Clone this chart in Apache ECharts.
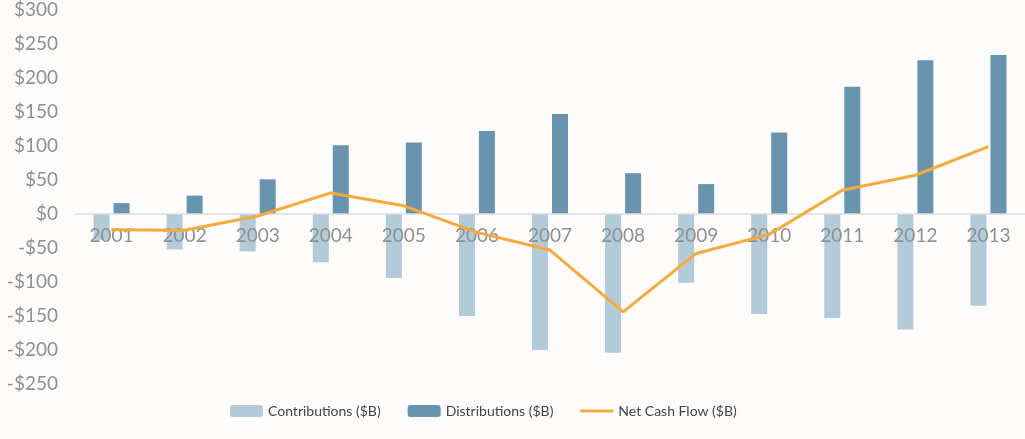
<!DOCTYPE html>
<html>
<head>
<meta charset="utf-8">
<script src="https://cdn.jsdelivr.net/npm/echarts@6/dist/echarts.min.js"></script>
<style>
  html, body { margin: 0; padding: 0; background: #fdfcfb; }
  #chart { width: 1025px; height: 439px; }
</style>
</head>
<body>
<div id="chart"></div>
<script>
// values, in $B
var years = ["2001", "2002", "2003", "2004", "2005", "2006", "2007", "2008", "2009", "2010", "2011", "2012", "2013"];
var contributions = [-38, -52, -55, -71, -94, -150, -200, -204, -101, -147, -153, -170, -135];
var distributions = [16, 27, 51, 101, 105, 122, 147, 60, 44, 120, 187, 226, 234];
var netCashFlow = [-23, -24, -3, 31, 12, -27, -53, -144, -58, -30, 35, 57, 99];

var myChart = echarts.init(document.getElementById("chart"));
var option = {
    backgroundColor: "#fdfcfb",
    animation: false,
    grid: {
        left: 75,
        top: 10,
        bottom: 55,
        width: 953
    },
    legend: {
        left: 225,
        top: 399,
        itemWidth: 33,
        itemHeight: 12,
        itemGap: 27,
        textStyle: { color: "#444", fontSize: 14, fontFamily: "Lato" },
        data: [
            { name: "Contributions ($B)" },
            { name: "Distributions ($B)" },
            { name: "Net Cash Flow ($B)", icon: "path://M0,0 L33,0 L33,3 L0,3 Z" }
        ]
    },
    xAxis: {
        type: "category",
        data: years,
        z: 3,
        // the axis sits on the $0 line: 170px up from the grid bottom
        offset: -170,
        axisLine: { onZero: false, lineStyle: { color: "#d9dde0", width: 1.5 } },
        axisTick: { show: false },
        axisLabel: { color: "#909090", fontSize: 19, fontFamily: "Lato", margin: 12 }
    },
    yAxis: {
        type: "value",
        min: -250,
        max: 300,
        interval: 50,
        splitLine: { show: false },
        axisLine: { show: false },
        axisTick: { show: false },
        axisLabel: {
            color: "#909090",
            fontSize: 19,
            fontFamily: "Lato",
            margin: 17,
            formatter: function (v) { return (v < 0 ? "-$" : "$") + Math.abs(v); }
        }
    },
    series: [
        {
            name: "Contributions ($B)",
            type: "bar",
            data: contributions,
            barWidth: 16,
            barGap: "25%",
            itemStyle: { color: "#b3cbd8" }
        },
        {
            name: "Distributions ($B)",
            type: "bar",
            data: distributions,
            barWidth: 16,
            itemStyle: { color: "#6895ad" }
        },
        {
            name: "Net Cash Flow ($B)",
            type: "line",
            data: netCashFlow,
            symbol: "none",
            z: 5,
            lineStyle: { color: "#f5aa3c", width: 3 },
            itemStyle: { color: "#f5aa3c" }
        }
    ]
};
myChart.setOption(option);
</script>
</body>
</html>
